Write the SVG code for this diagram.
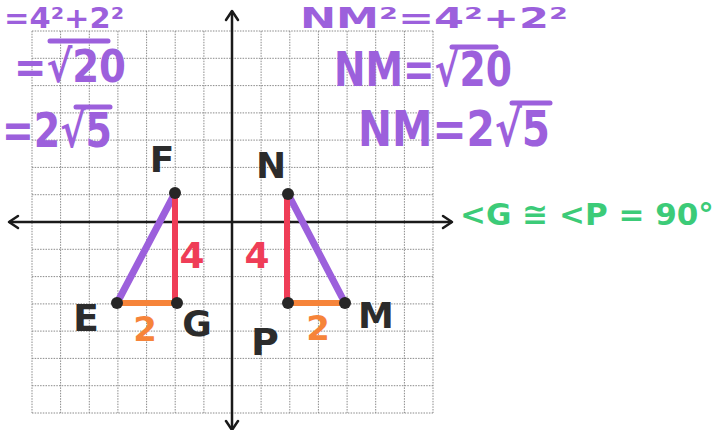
<svg xmlns="http://www.w3.org/2000/svg" width="722" height="430" viewBox="0 0 722 430">
<style>
.grid line{stroke:#8a8a8a;stroke-width:1;stroke-dasharray:1.5 1.2}
.axis{stroke:#1a1a1a;stroke-width:2.5;fill:none}
.head{stroke:#1a1a1a;stroke-width:2.5;fill:none;stroke-linecap:round;stroke-linejoin:round}
.pur{fill:#9c60dc;font-family:"DejaVu Sans","Liberation Sans",sans-serif;font-weight:bold}
.grn{fill:#3ccb78;font-family:"DejaVu Sans","Liberation Sans",sans-serif;font-weight:bold}
.lbl{fill:#2c2c2c;font-family:"DejaVu Sans","Liberation Sans",sans-serif;font-weight:bold;text-anchor:middle}
.red{fill:#ef3d57;font-family:"DejaVu Sans","Liberation Sans",sans-serif;font-weight:bold;text-anchor:middle}
.org{fill:#f6843a;font-family:"DejaVu Sans","Liberation Sans",sans-serif;font-weight:bold;text-anchor:middle}
.dot{fill:#262626}
.edge{fill:none;stroke-linecap:round}
</style>
<rect width="722" height="430" fill="#ffffff"/>
<g id="grid" class="grid">
<line x1="32" y1="31" x2="32" y2="413"/><line x1="60.6" y1="31" x2="60.6" y2="413"/><line x1="89.3" y1="31" x2="89.3" y2="413"/><line x1="117.9" y1="31" x2="117.9" y2="413"/><line x1="146.6" y1="31" x2="146.6" y2="413"/><line x1="175.2" y1="31" x2="175.2" y2="413"/><line x1="203.9" y1="31" x2="203.9" y2="413"/><line x1="261.1" y1="31" x2="261.1" y2="413"/><line x1="289.8" y1="31" x2="289.8" y2="413"/><line x1="318.4" y1="31" x2="318.4" y2="413"/><line x1="347.1" y1="31" x2="347.1" y2="413"/><line x1="375.7" y1="31" x2="375.7" y2="413"/><line x1="404.4" y1="31" x2="404.4" y2="413"/><line x1="433" y1="31" x2="433" y2="413"/>
<line x1="32" y1="31" x2="433" y2="31"/><line x1="32" y1="58.3" x2="433" y2="58.3"/><line x1="32" y1="85.6" x2="433" y2="85.6"/><line x1="32" y1="112.9" x2="433" y2="112.9"/><line x1="32" y1="140.1" x2="433" y2="140.1"/><line x1="32" y1="167.4" x2="433" y2="167.4"/><line x1="32" y1="194.7" x2="433" y2="194.7"/><line x1="32" y1="249.3" x2="433" y2="249.3"/><line x1="32" y1="276.6" x2="433" y2="276.6"/><line x1="32" y1="303.9" x2="433" y2="303.9"/><line x1="32" y1="331.1" x2="433" y2="331.1"/><line x1="32" y1="358.4" x2="433" y2="358.4"/><line x1="32" y1="385.7" x2="433" y2="385.7"/><line x1="32" y1="413" x2="433" y2="413"/>
</g>
<g id="axes">
<line class="axis" x1="232" y1="11" x2="232" y2="432"/>
<polyline class="head" points="226,20 232,11 238,20"/>
<polyline class="head" points="226,421 232,430 238,421"/>
<line class="axis" x1="9" y1="222" x2="452" y2="222"/>
<polyline class="head" points="18,216 9,222 18,228"/>
<polyline class="head" points="443,216 452,222 443,228"/>
</g>
<g id="connectors">
<line class="edge" x1="175" y1="193" x2="117" y2="303" stroke="#9c60dc" stroke-width="7"/>
<line class="edge" x1="175" y1="193" x2="175" y2="303" stroke="#ef3d57" stroke-width="6"/>
<line class="edge" x1="117" y1="303" x2="177" y2="303" stroke="#f6843a" stroke-width="6"/>
<line class="edge" x1="288" y1="194" x2="345" y2="303" stroke="#9c60dc" stroke-width="7"/>
<line class="edge" x1="287" y1="194" x2="287" y2="303" stroke="#ef3d57" stroke-width="6"/>
<line class="edge" x1="288" y1="303" x2="345" y2="303" stroke="#f6843a" stroke-width="6"/>
</g>
<g id="F"><circle class="dot" cx="175" cy="193" r="6"/><text class="lbl" x="162" y="172" font-size="36">F</text></g>
<g id="G"><circle class="dot" cx="177" cy="303" r="6"/><text class="lbl" x="197" y="336" font-size="36">G</text></g>
<g id="E"><circle class="dot" cx="117" cy="303" r="6"/><text class="lbl" x="86" y="331" font-size="38">E</text></g>
<g id="N"><circle class="dot" cx="288" cy="194" r="6"/><text class="lbl" x="271" y="178" font-size="36">N</text></g>
<g id="P"><circle class="dot" cx="288" cy="303" r="6"/><text class="lbl" x="265" y="355" font-size="38">P</text></g>
<g id="M"><circle class="dot" cx="345" cy="303" r="6"/><text class="lbl" x="376" y="328" font-size="36">M</text></g>
<g id="side-labels">
<text class="red" x="192" y="268" font-size="36">4</text>
<text class="red" x="257" y="268" font-size="36">4</text>
<text class="org" x="145" y="341" font-size="34">2</text>
<text class="org" x="318" y="340" font-size="34">2</text>
</g>
<g id="work-left">
<text class="pur" x="4" y="28" font-size="28" textLength="120" lengthAdjust="spacingAndGlyphs">=4²+2²</text>
<text class="pur" x="14" y="82" font-size="44" textLength="112" lengthAdjust="spacingAndGlyphs">=√20</text>
<line x1="50" y1="41" x2="108" y2="41" stroke="#9c60dc" stroke-width="5" stroke-linecap="round"/>
<text class="pur" x="2" y="147" font-size="48" textLength="110" lengthAdjust="spacingAndGlyphs">=2√5</text>
<line x1="76" y1="107" x2="110" y2="107" stroke="#9c60dc" stroke-width="5" stroke-linecap="round"/>
</g>
<g id="work-right">
<text class="pur" x="300" y="28" font-size="28" textLength="268" lengthAdjust="spacingAndGlyphs">NM²=4²+2²</text>
<text class="pur" x="334" y="86" font-size="48" textLength="178" lengthAdjust="spacingAndGlyphs">NM=√20</text>
<line x1="452" y1="47" x2="496" y2="47" stroke="#9c60dc" stroke-width="5" stroke-linecap="round"/>
<text class="pur" x="358" y="146" font-size="50" textLength="192" lengthAdjust="spacingAndGlyphs">NM=2√5</text>
<line x1="512" y1="103" x2="550" y2="103" stroke="#9c60dc" stroke-width="5" stroke-linecap="round"/>
</g>
<g id="angles">
<text class="grn" x="460" y="225" font-size="31">&lt;G ≅ &lt;P = 90°</text>
</g>
</svg>
